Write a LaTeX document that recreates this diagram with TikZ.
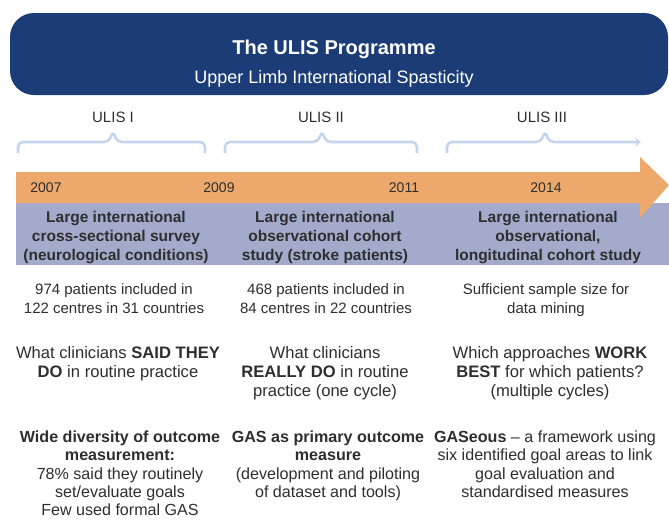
\documentclass[tikz,border=0pt]{standalone}
\usepackage{fontspec}
\setmainfont{Liberation Sans}
\usepackage{xcolor}
\usepackage{tikz}
\usetikzlibrary{arrows.meta}
\definecolor{banner}{HTML}{1C3C78}
\definecolor{orangeBand}{HTML}{EDA96C}
\definecolor{blueBand}{HTML}{A4AACB}
\definecolor{braceCol}{HTML}{C6D5EE}
\definecolor{ink}{HTML}{2E2E2E}
\tikzset{
  braceLine/.style={draw=braceCol, line width=2.6pt, rounded corners=5pt},
  phaseLbl/.style={text=ink, font=\fontsize{15}{18}\selectfont},
  yearLbl/.style={text=ink, font=\fontsize{14}{17}\selectfont},
  bandTxt/.style={text=ink, font=\fontsize{15.5}{19}\selectfont\bfseries, align=center, anchor=north},
  bodyTxt/.style={text=ink, font=\fontsize{15}{18.6}\selectfont, align=center, anchor=north},
  bigTxt/.style={bodyTxt, font=\fontsize{16.6}{18.8}\selectfont},
  outTxt/.style={bodyTxt, font=\fontsize{16.1}{18.4}\selectfont},
}

\begin{document}
\begin{tikzpicture}[x=1pt,y=-1pt]
  \useasboundingbox (0,0) rectangle (669,525);

  % title banner
  \fill[banner, rounded corners=24pt] (10,13) rectangle (668,95);
  \node[text=white, font=\fontsize{20}{24}\selectfont\bfseries] (title) at (334,49) {The ULIS Programme};
  \node[text=white, font=\fontsize{18}{21}\selectfont] (subtitle) at (334,79) {Upper Limb International Spasticity};

  % phases
  \node[phaseLbl] (ulisA) at (113,117) {ULIS I};
  \node[phaseLbl] (ulisB) at (321,117) {ULIS II};
  \node[phaseLbl] (ulisC) at (542,117) {ULIS III};
  \draw[braceLine] (18,153) -- (18,142) -- (109,142) -- (113,131) -- (117,142) -- (205,142) -- (205,153);
  \draw[braceLine] (225,153) -- (225,142) -- (318,142) -- (322,131) -- (326,142) -- (417,142) -- (417,153);
  \draw[braceLine, -{Stealth[length=6pt,width=9pt]}] (447,153) -- (447,142) -- (541,142) -- (545,131) -- (549,142) -- (641,142);

  % timeline bands
  \fill[blueBand] (16,203) rectangle (669,265);
  \fill[orangeBand] (16,172) -- (640,172) -- (640,157) -- (669,185) -- (640,218) -- (640,203) -- (16,203) -- cycle;
  \node[yearLbl] (y07) at (46,188) {2007};
  \node[yearLbl] (y09) at (219,188) {2009};
  \node[yearLbl] (y11) at (404,188) {2011};
  \node[yearLbl] (y14) at (546,188) {2014};

  % study design
  \node[bandTxt] (designA) at (116,208) {Large international\\cross-sectional survey\\(neurological conditions)};
  \node[bandTxt] (designB) at (325,208) {Large international\\observational cohort\\study (stroke patients)};
  \node[bandTxt] (designC) at (548,208) {Large international\\observational,\\longitudinal cohort study};

  % sample
  \node[bodyTxt] (sampleA) at (114,280) {974 patients included in\\122 centres in 31 countries};
  \node[bodyTxt] (sampleB) at (326,280) {468 patients included in\\84 centres in 22 countries};
  \node[bodyTxt] (sampleC) at (546,280) {Sufficient sample size for\\data mining};

  % question
  \node[bigTxt] (questA) at (118,343) {What clinicians \textbf{SAID THEY}\\\textbf{DO} in routine practice};
  \node[bigTxt] (questB) at (325,343) {What clinicians\\\textbf{REALLY DO} in routine\\practice (one cycle)};
  \node[bigTxt] (questC) at (550,343) {Which approaches \textbf{WORK}\\\textbf{BEST} for which patients?\\(multiple cycles)};

  % outcome
  \node[outTxt] (outA) at (120,427) {\textbf{Wide diversity of outcome}\\\textbf{measurement:}\\78\% said they routinely\\set/evaluate goals\\Few used formal GAS};
  \node[outTxt] (outB) at (328,427) {\textbf{GAS as primary outcome}\\\textbf{measure}\\(development and piloting\\of dataset and tools)};
  \node[outTxt] (outC) at (545,427) {\textbf{GASeous} -- a framework using\\six identified goal areas to link\\goal evaluation and\\standardised measures};
\end{tikzpicture}
\end{document}
